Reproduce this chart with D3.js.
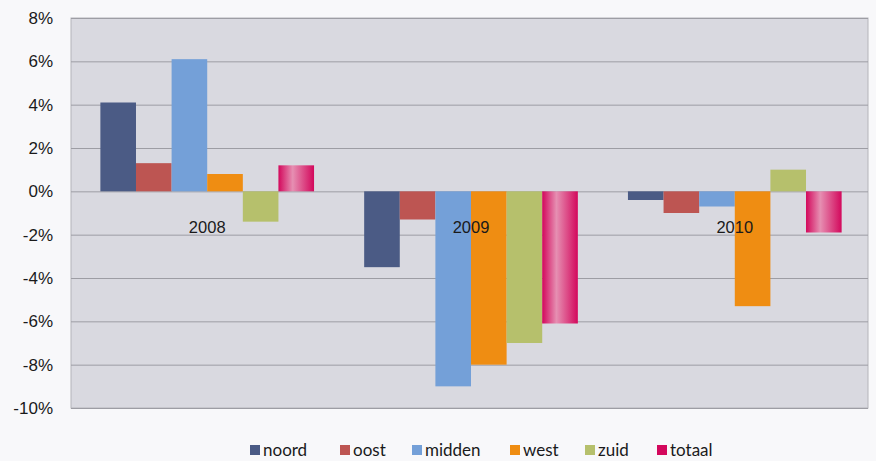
<!DOCTYPE html>
<html>
<head>
<meta charset="utf-8">
<script src="https://cdn.jsdelivr.net/npm/d3@7"></script>
<style>
  body { margin: 0; background: #f8f8fa; }
  svg { display: block; font-family: Lato, "Open Sans", sans-serif; }
  .tick text { fill: #1a1a1a; }
</style>
</head>
<body>
<svg id="chart" width="876" height="461"></svg>
<script>
const years = ["2008", "2009", "2010"];
const regions = ["noord", "oost", "midden", "west", "zuid", "totaal"];
const colors = ["#4b5b85", "#bd5552", "#74a0d8", "#ef8d12", "#b6c06c", "#d3085c"];

// values in percent, per region, for 2008 / 2009 / 2010
const noord = [4.1, -3.5, -0.4];
const oost = [1.3, -1.3, -1.0];
const midden = [6.1, -9.0, -0.7];
const west = [0.8, -8.0, -5.3];
const zuid = [-1.4, -7.0, 1.0];
const totaal = [1.2, -6.1, -1.9];

const yTicks = [8, 6, 4, 2, 0, -2, -4, -6, -8, -10];

const series = [noord, oost, midden, west, zuid, totaal];
const rows = years.flatMap((year, i) =>
  regions.map((region, j) => ({ year, region, value: series[j][i] }))
);

const M = { top: 18, right: 8, bottom: 53, left: 71 };
const W = 876, H = 461;

const svg = d3.select("#chart");

// the groups sit a little right of centre in the original
const x = d3.scaleBand().domain(years).range([M.left + 3, W - M.right]).paddingInner(0.19).paddingOuter(0.1);
const xi = d3.scaleBand().domain(regions).range([0, x.bandwidth()]);
const y = d3.scaleLinear().domain([-10, 8]).range([H - M.bottom, M.top]);
const color = d3.scaleOrdinal().domain(regions).range(colors);

const defs = svg.append("defs");
const grad = defs.append("linearGradient").attr("id", "totaalFill");
grad.append("stop").attr("offset", "0%").attr("stop-color", "#d3085c");
grad.append("stop").attr("offset", "40%").attr("stop-color", "#e68fb2");
grad.append("stop").attr("offset", "100%").attr("stop-color", "#d3085c");

// plot area
svg.append("rect")
  .attr("x", M.left).attr("y", M.top)
  .attr("width", W - M.left - M.right).attr("height", H - M.top - M.bottom)
  .attr("fill", "#d9d9e0")
  .attr("stroke", "#b4b4ba");

// y axis with grid
svg.append("g")
  .attr("transform", `translate(${M.left},0)`)
  .call(d3.axisLeft(y).tickValues(yTicks).tickSize(-(W - M.left - M.right)).tickPadding(18).tickFormat((d) => d + "%"))
  .call((g) => g.select(".domain").remove())
  .call((g) => g.selectAll(".tick line").attr("stroke", "#9d9da4").attr("stroke-width", 1))
  .call((g) => g.selectAll(".tick text").attr("font-size", 17));

// bars
svg.append("g")
  .selectAll("rect")
  .data(rows)
  .join("rect")
  .attr("x", (d) => x(d.year) + xi(d.region))
  .attr("width", xi.bandwidth())
  .attr("y", (d) => y(Math.max(0, d.value)))
  .attr("height", (d) => Math.abs(y(d.value) - y(0)))
  .attr("fill", (d) => (d.region === "totaal" ? "url(#totaalFill)" : color(d.region)));

// category labels sit just under the zero line
svg.append("g")
  .attr("transform", `translate(0,${y(0)})`)
  .call(d3.axisBottom(x).tickSize(0).tickPadding(30))
  .call((g) => g.select(".domain").remove())
  .call((g) => g.selectAll(".tick text").attr("font-size", 16.5));

// legend
const legendX = [250, 340, 412, 510, 585, 657];
const legend = svg.append("g")
  .selectAll("g")
  .data(regions)
  .join("g")
  .attr("transform", (d, i) => `translate(${legendX[i]},450)`);

legend.append("rect")
  .attr("x", 0).attr("y", -5)
  .attr("width", 10).attr("height", 10)
  .attr("fill", (d) => color(d));

legend.append("text")
  .attr("x", 13).attr("dy", "0.35em")
  .attr("font-size", 17)
  .attr("fill", "#1a1a1a")
  .text((d) => d);
</script>
</body>
</html>
